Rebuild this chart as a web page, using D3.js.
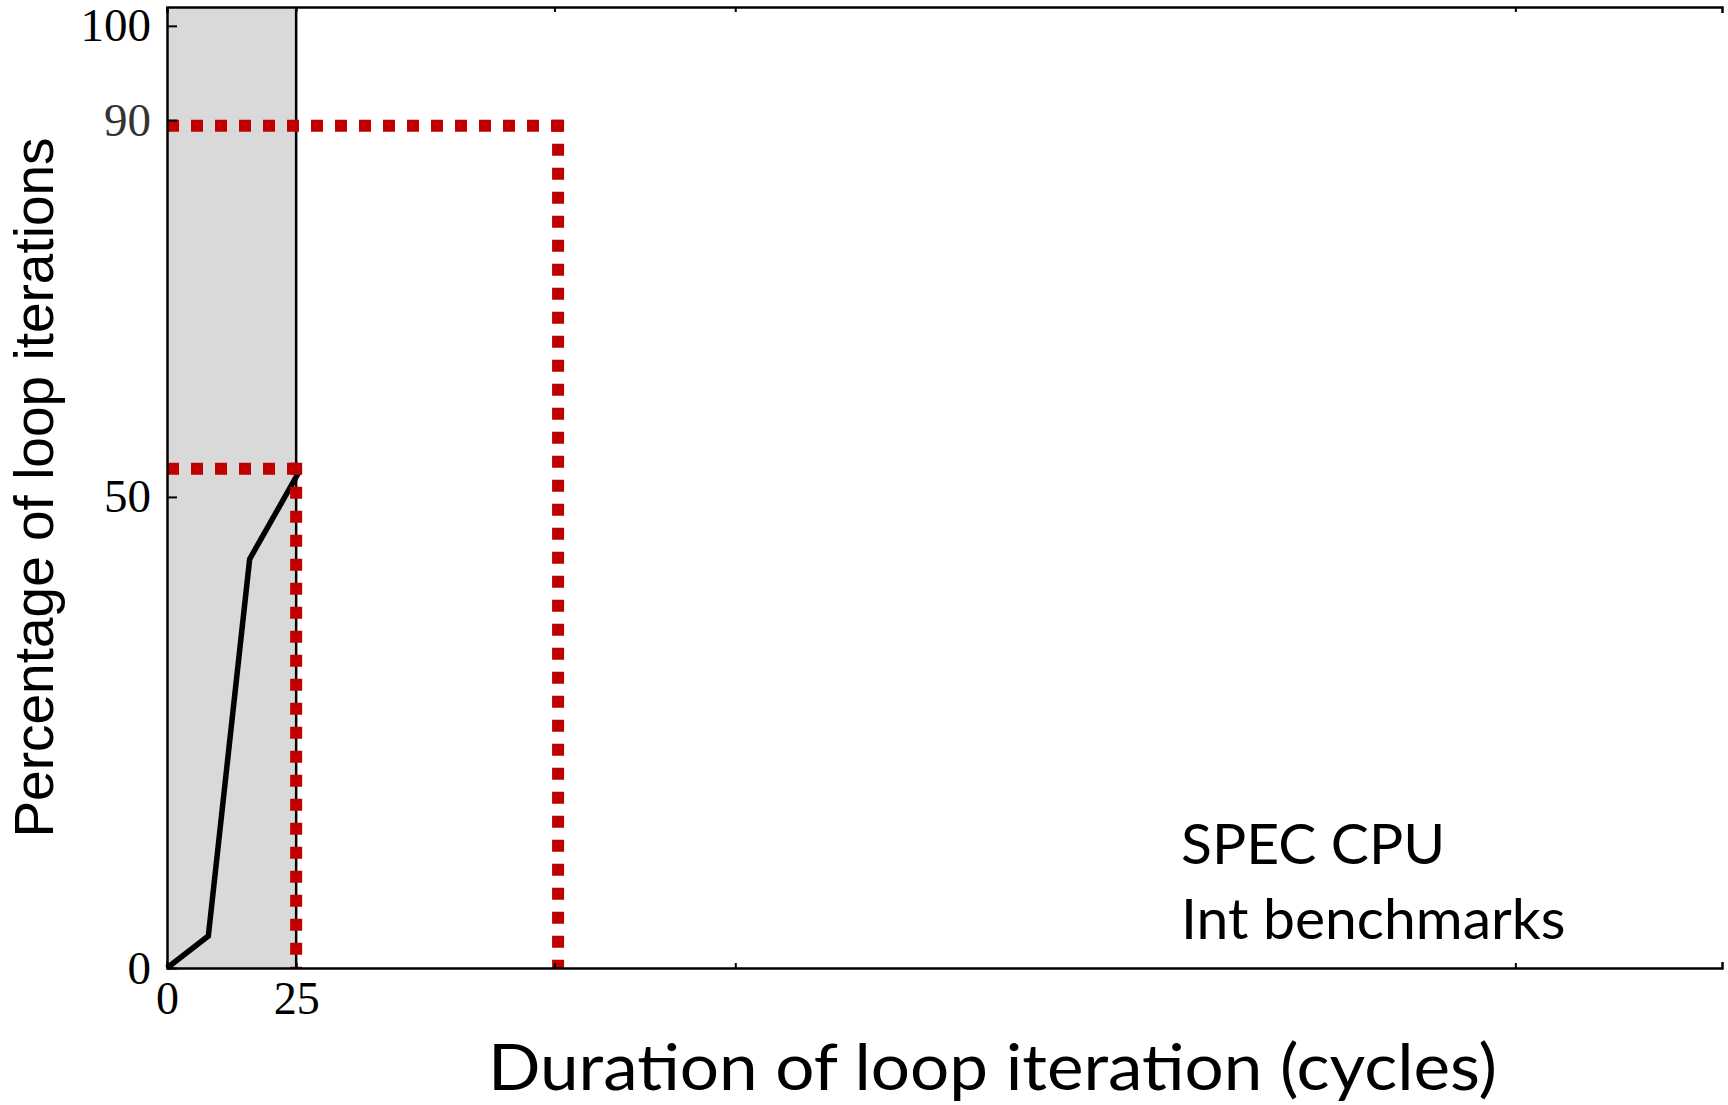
<!DOCTYPE html>
<html>
<head>
<meta charset="utf-8">
<script src="https://cdn.jsdelivr.net/npm/d3@7"></script>
<style>
  html, body { margin: 0; padding: 0; background: #fff; }
  svg { display: block; }
  .tick text { font-family: "Liberation Serif", serif; }
</style>
</head>
<body>
<svg id="chart" width="1728" height="1105"></svg>
<script>
// cumulative distribution of loop iteration durations
const durationCycles = [0, 8, 16, 25.5];
const cumulativePct = [0, 3.4, 43.4, 52.6];

// percentile markers (red dotted guides)
const markerCycles = [25, 75.7];
const markerPct = [53, 89.4];

// shaded short-iteration band
const bandCycles = [0, 25];

// axis ticks
const xTickValues = [0, 25, 75, 110, 261];
const xTickLabels = ["0", "25", "", "", ""];
const yTickValues = [0, 50, 90, 100];
const yTickLabels = ["0", "50", "90", "100"];

const xTitle = "Duration of loop iteration (cycles)";
const yTitle = "Percentage of loop iterations";
const noteLines = ["SPEC CPU", "Int benchmarks"];

const svg = d3.select("#chart");
const margin = {top: 7, right: 6, bottom: 137, left: 167};
const width = 1728, height = 1105;

const x = d3.scaleLinear().domain([0, 301]).range([margin.left, width - margin.right]);
const y = d3.scaleLinear().domain([0, 102]).range([height - margin.bottom, margin.top]);

var red = "#c00000";

// shaded band
svg.append("rect")
  .attr("x", x(bandCycles[0]))
  .attr("y", y(102))
  .attr("width", x(bandCycles[1]) - x(bandCycles[0]))
  .attr("height", y(0) - y(102))
  .attr("fill", "#d9d9d9");
svg.append("line")
  .attr("x1", x(bandCycles[1])).attr("x2", x(bandCycles[1]))
  .attr("y1", y(102)).attr("y2", y(0))
  .attr("stroke", "#000").attr("stroke-width", 2.5);

// curve
const line = d3.line()
  .x(function(d, i) { return x(durationCycles[i]); })
  .y(function(d, i) { return y(cumulativePct[i]); });
svg.append("path")
  .datum(durationCycles)
  .attr("d", line)
  .attr("fill", "none")
  .attr("stroke", "#000")
  .attr("stroke-width", 5.5)
  .attr("stroke-linejoin", "miter");

// red dotted guides
markerCycles.forEach(function(c, i) {
  var p = markerPct[i];
  svg.append("line")
    .attr("x1", x(0)).attr("x2", x(c) + 6)
    .attr("y1", y(p)).attr("y2", y(p))
    .attr("stroke", red).attr("stroke-width", 12)
    .attr("stroke-dasharray", "12 12");
  svg.append("line")
    .attr("x1", x(c)).attr("x2", x(c))
    .attr("y1", y(p) - 6).attr("y2", y(0))
    .attr("stroke", red).attr("stroke-width", 12)
    .attr("stroke-dasharray", "12 12");
});

// axes
const xAxis = d3.axisBottom(x)
  .tickValues(xTickValues)
  .tickSize(-5).tickSizeOuter(-6).tickPadding(14)
  .tickFormat(function(d, i) { return xTickLabels[i]; });
const gx = svg.append("g")
  .attr("transform", "translate(0," + y(0) + ")")
  .call(xAxis);
gx.selectAll("text").attr("font-size", 46).attr("fill", "#000").attr("dy", "0.7em");

const topAxis = d3.axisTop(x)
  .tickValues(xTickValues)
  .tickSize(-5).tickSizeOuter(-6)
  .tickFormat("");
svg.append("g")
  .attr("transform", "translate(0," + y(102) + ")")
  .call(topAxis);

const yAxis = d3.axisLeft(y)
  .tickValues(yTickValues)
  .tickSize(-10).tickSizeOuter(0).tickPadding(16)
  .tickFormat(function(d, i) { return yTickLabels[i]; });
const gy = svg.append("g")
  .attr("transform", "translate(" + x(0) + ",0)")
  .call(yAxis);
gy.selectAll("text").attr("font-size", 47)
  .attr("fill", function(d) { return d === 90 ? "#333" : "#000"; });

svg.selectAll(".domain").attr("stroke-width", 2.5);
svg.selectAll(".tick line").attr("stroke-width", 2);

// titles
svg.append("text")
  .attr("transform", "translate(53," + (y(0) + y(102)) / 2 + ") rotate(-90)")
  .attr("text-anchor", "middle")
  .attr("font-family", "Liberation Sans, Arial, sans-serif")
  .attr("font-size", 55)
  .text(yTitle);

svg.append("text")
  .attr("x", 488).attr("y", 1090)
  .attr("font-family", "Lato, sans-serif")
  .attr("font-size", 64)
  .attr("textLength", 1009)
  .attr("lengthAdjust", "spacingAndGlyphs")
  .text(xTitle);

svg.selectAll(".note")
  .data(noteLines)
  .enter().append("text")
  .attr("class", "note")
  .attr("x", 1181)
  .attr("y", function(d, i) { return 864 + i * 75; })
  .attr("font-family", "Lato, sans-serif")
  .attr("font-size", 57)
  .text(function(d) { return d; });
</script>
</body>
</html>
